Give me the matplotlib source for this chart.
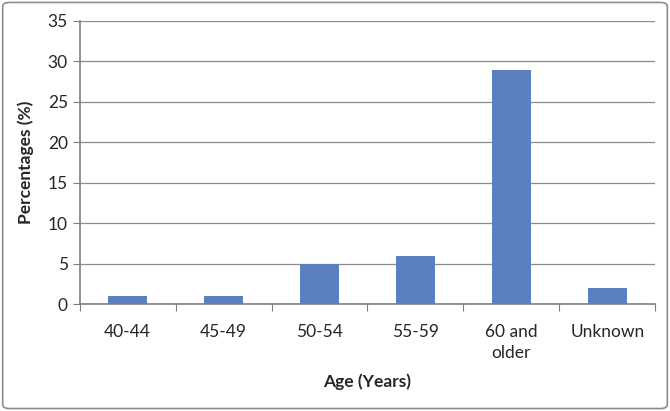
import numpy as np
import matplotlib
matplotlib.use("Agg")
import matplotlib.pyplot as plt
from matplotlib.patches import FancyBboxPatch

categories = ["40-44", "45-49", "50-54", "55-59", "60 and\nolder", "Unknown"]
percentages = [1, 1, 5, 6, 29, 2]

plt.rcParams['font.family'] = ['Lato', 'DejaVu Sans']

fig = plt.figure(figsize=(6.7, 4.11), dpi=100)
ax = fig.add_axes([0.119, 0.260, 0.859, 0.689])

x = np.arange(len(categories))
ax.bar(x, percentages, width=0.41, color='#5b80be', zorder=3)

ax.set_xlim(-0.5, len(categories) - 0.5)
ax.set_ylim(0, 35)
ax.set_yticks(np.arange(0, 36, 5))
ax.set_xticks(np.arange(-0.5, len(categories), 1))
ax.set_xticklabels([])
ax.set_xticks(x, minor=True)
ax.set_xticklabels(categories, minor=True, fontsize=12.5, color='#262626', linespacing=1.45)
ax.tick_params(axis='x', which='minor', length=0, pad=14)
ax.tick_params(axis='x', which='major', length=5, color='#7f7f7f', direction='out')
ax.tick_params(axis='y', length=5, color='#7f7f7f', labelsize=12.5, labelcolor='#262626')

ax.grid(axis='y', color='#8c8c8c', linewidth=0.9, zorder=0)
for s in ['top', 'right']:
    ax.spines[s].set_visible(False)
for s in ['left', 'bottom']:
    ax.spines[s].set_color('#7f7f7f')
    ax.spines[s].set_linewidth(1.2)

ax.set_ylabel("Percentages (%)", fontsize=12.5, fontweight='bold', color='#262626', labelpad=10)
ax.set_xlabel("Age (Years)", fontsize=12.5, fontweight='bold', color='#262626', labelpad=9)

border = FancyBboxPatch((0.004, 0.006), 0.992, 0.988, boxstyle="round,pad=0,rounding_size=0.01",
                        transform=fig.transFigure, facecolor='none', edgecolor='#8c8c8c',
                        linewidth=1.2)
fig.patches.append(border)

fig.savefig("out.png", dpi=100)
